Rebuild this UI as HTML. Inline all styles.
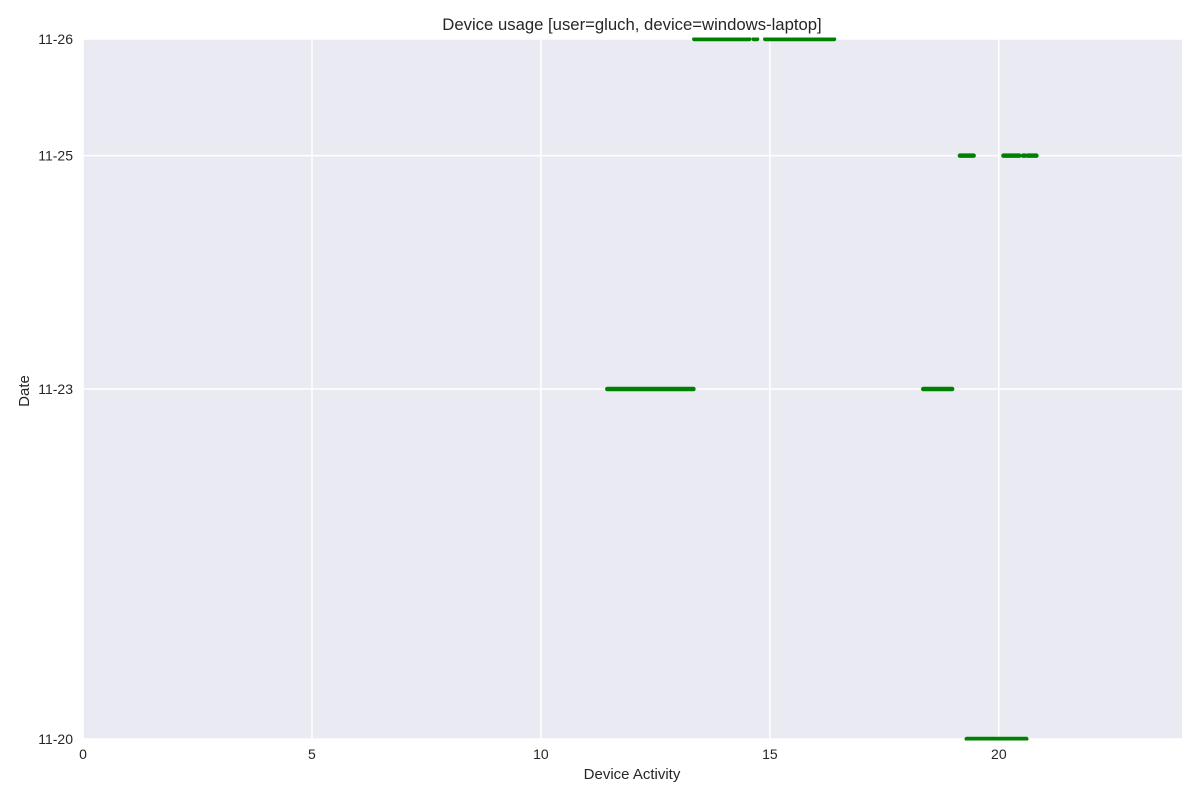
<!DOCTYPE html>
<html><head><meta charset="utf-8"><style>
body{margin:0;background:#fff;font-family:"Liberation Sans",sans-serif}
</style></head><body>
<svg id="c" width="1200" height="800" xmlns="http://www.w3.org/2000/svg" font-family="Liberation Sans, sans-serif"></svg>
<script>
const dateLabels=["11-20","11-23","11-25","11-26"];
const dateValues=[20,23,25,26];
const xTicks=[0,5,10,15,20];
const segDates=[26,26,26,25,25,25,25,23,23,20];
const segStarts=[13.35,14.65,14.9,19.15,20.1,20.53,20.63,11.45,18.35,19.3];
const segEnds=[14.55,14.72,16.4,19.45,20.45,20.57,20.82,13.33,18.98,20.6];
const NS="http://www.w3.org/2000/svg";
const svg=document.getElementById('c');
const L=83,R=1182,T=39,B=739;
const xs=v=>L+(v/24)*(R-L);
const ys=d=>B-(d-20)/6*(B-T);
function el(t,a,p){const e=document.createElementNS(NS,t);for(const k in a)e.setAttribute(k,a[k]);(p||svg).appendChild(e);return e;}
const defs=el('defs',{});
const cp=el('clipPath',{id:'pc'},defs);
el('rect',{x:L,y:T-1.5,width:R-L,height:B-T+3},cp);
const bg=el('rect',{x:L,y:T,width:R-L,height:B-T,fill:'#eaeaf2'});


xTicks.forEach(v=>{
  const g=el('line',{x1:xs(v),x2:xs(v),y1:T,y2:B,stroke:'#fff','stroke-width':1.5});
  
  
  const t=el('text',{x:xs(v),y:759,'text-anchor':'middle','font-size':14,fill:'#262626'});
  t.textContent=v;
  
  
});
dateValues.forEach((d,i)=>{
  const g=el('line',{x1:L,x2:R,y1:ys(d),y2:ys(d),stroke:'#fff','stroke-width':1.5});
  
  
  const t=el('text',{x:73,y:ys(d)+5,'text-anchor':'end','font-size':14,fill:'#262626'});
  t.textContent=dateLabels[i];
  
  
});
const sg=el('g',{'clip-path':'url(#pc)'});


segDates.forEach((d,i)=>{
  const s=el('line',{x1:xs(segStarts[i]),x2:xs(segEnds[i]),y1:ys(d),y2:ys(d),stroke:'#008000','stroke-width':4.5,'stroke-linecap':'round'},sg);
  
  
});
const title=el('text',{x:632,y:30,'text-anchor':'middle','font-size':16.7,fill:'#262626'});
title.textContent='Device usage [user=gluch, device=windows-laptop]';


const xt=el('text',{x:632,y:779,'text-anchor':'middle','font-size':15,fill:'#262626'});
xt.textContent='Device Activity';


const yt=el('text',{x:29,y:391,'text-anchor':'middle','font-size':15,fill:'#262626',transform:'rotate(-90 29 391)'});
yt.textContent='Date';


</script>
</body></html>
